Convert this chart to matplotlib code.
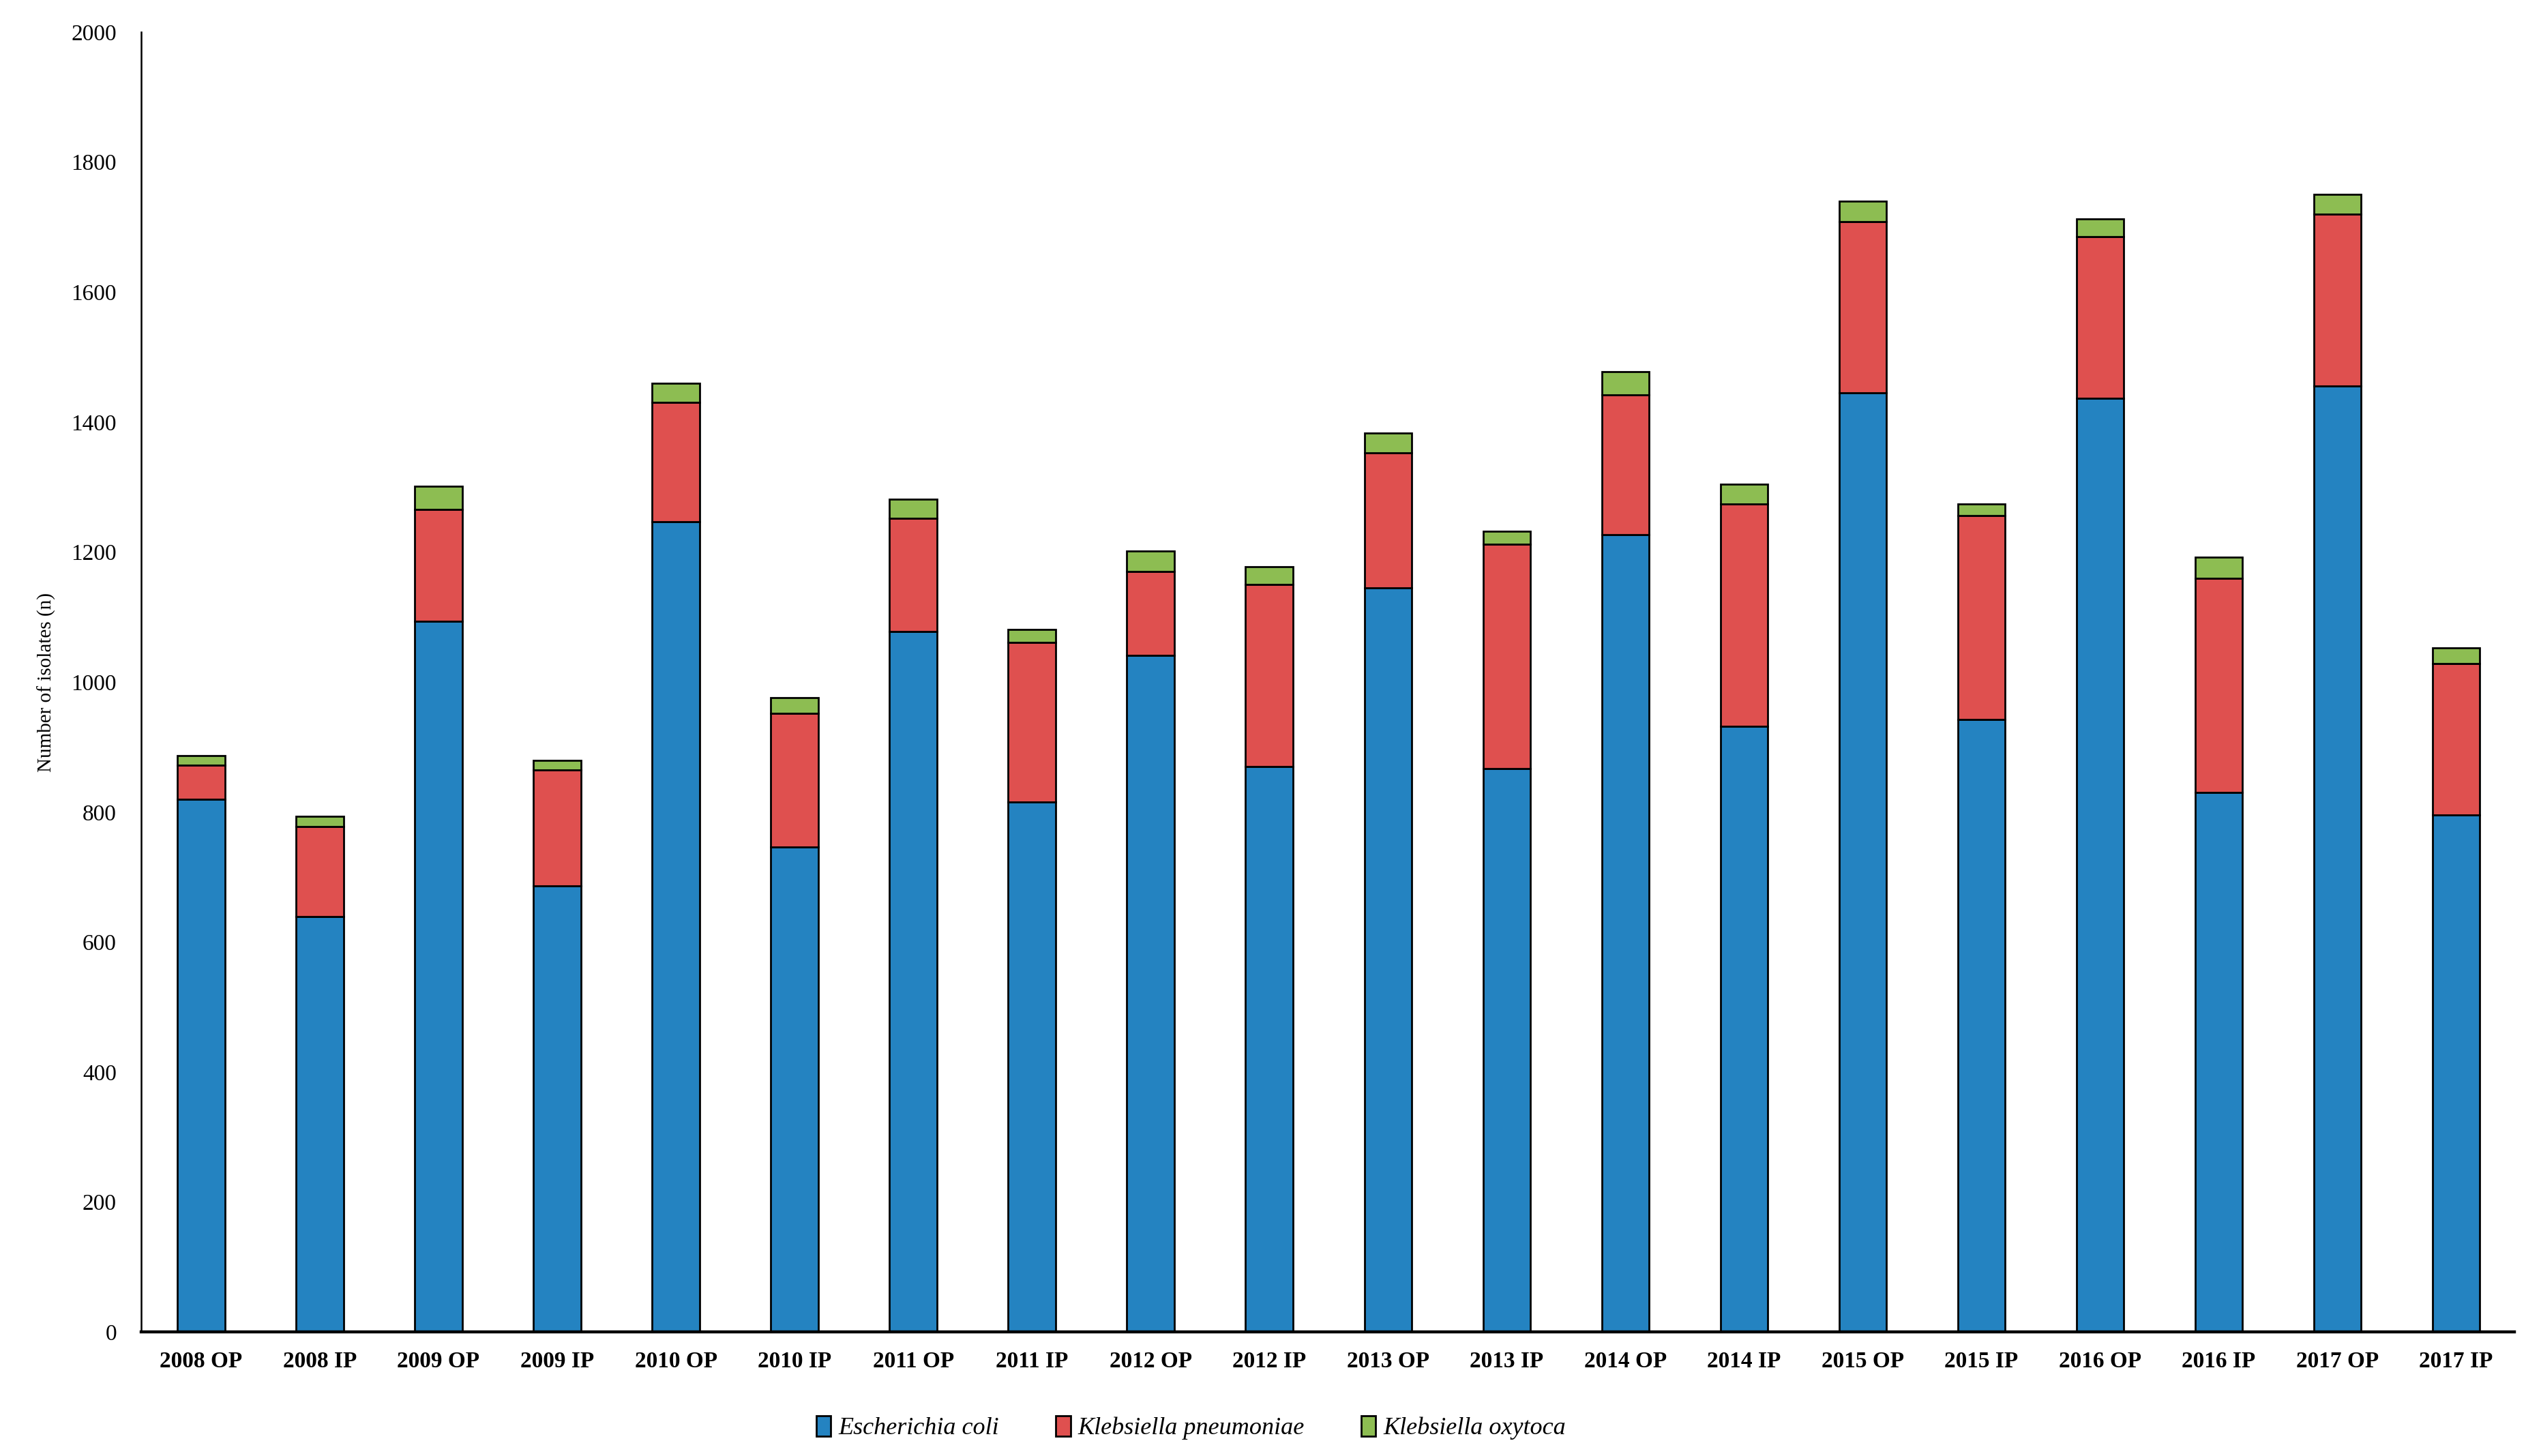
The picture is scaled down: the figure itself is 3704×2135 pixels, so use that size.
import numpy as np
import matplotlib
matplotlib.use("Agg")
import matplotlib.pyplot as plt
from matplotlib.patches import Patch

plt.rcParams['font.family'] = ['Liberation Serif', 'DejaVu Serif']

# categories and stacked values
categories = ['2008 OP', '2008 IP', '2009 OP', '2009 IP', '2010 OP', '2010 IP',
              '2011 OP', '2011 IP', '2012 OP', '2012 IP', '2013 OP', '2013 IP',
              '2014 OP', '2014 IP', '2015 OP', '2015 IP', '2016 OP', '2016 IP',
              '2017 OP', '2017 IP']
e_coli = [820, 639, 1093, 686, 1247, 746, 1078, 815, 1041, 870,
          1145, 867, 1227, 932, 1445, 942, 1437, 830, 1455, 796]
k_pneumoniae = [52, 139, 173, 179, 183, 206, 174, 246, 129, 280,
                208, 345, 215, 342, 263, 314, 248, 330, 265, 232]
k_oxytoca = [15, 15, 35, 15, 30, 24, 29, 20, 32, 27,
             30, 20, 35, 30, 32, 18, 28, 32, 30, 25]
series_names = ['Escherichia coli', 'Klebsiella pneumoniae', 'Klebsiella oxytoca']
series_colors = ['#2483C1', '#DF504F', '#8DBD52']

fig = plt.figure(figsize=(18.52, 10.675), dpi=200)
ax = fig.add_axes([0.0559, 0.0851, 0.9395, 0.8929])

x = np.arange(len(categories))
bottom = np.zeros(len(categories))
for vals, name, col in zip([e_coli, k_pneumoniae, k_oxytoca], series_names, series_colors):
  ax.bar(x, vals, width=0.4, bottom=bottom, color=col, edgecolor='black', linewidth=1.0, label=name)
  bottom += np.array(vals)

ax.set_xlim(-0.505, len(categories) - 0.51)
ax.set_ylim(0, 2000)
ax.set_yticks(range(0, 2001, 200))
ax.set_xticks(x)
ax.set_xticklabels(categories, fontweight='bold', fontsize=12)
ax.tick_params(axis='y', length=0, pad=13, labelsize=12)
ax.tick_params(axis='x', length=0, pad=10)
ax.set_ylabel('Number of isolates (n)', fontsize=10.5)
ax.yaxis.set_label_coords(-0.036, 0.5)

ax.spines['top'].set_visible(False)
ax.spines['right'].set_visible(False)
ax.spines['left'].set_linewidth(0.9)
ax.spines['bottom'].set_linewidth(1.6)

handles = [Patch(facecolor=c, edgecolor='black', linewidth=1.0) for c in series_colors]
fig.legend(handles, series_names, loc='lower center', bbox_to_anchor=(0.4715, -0.004),
           ncol=3, frameon=False, prop={'style': 'italic', 'size': 13},
           handlelength=0.6, handleheight=0.9, handletextpad=0.3, columnspacing=2.3)

fig.savefig('out.png', dpi=200)
